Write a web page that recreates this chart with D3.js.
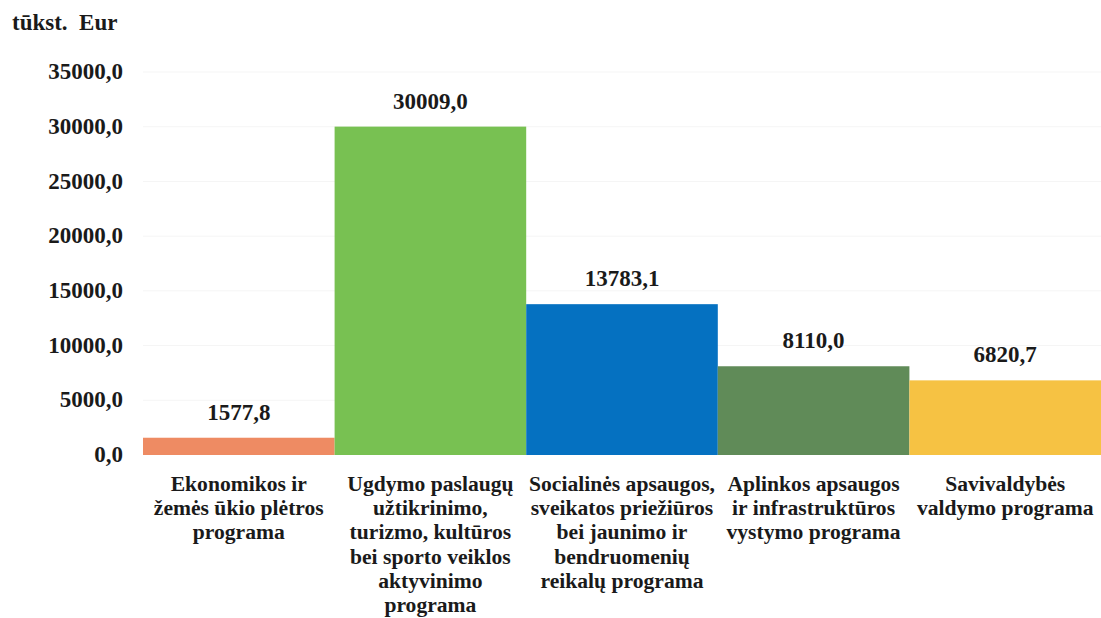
<!DOCTYPE html>
<html>
<head>
<meta charset="utf-8">
<script src="https://cdn.jsdelivr.net/npm/d3@7"></script>
<style>
  html, body { margin: 0; padding: 0; background: #fff; }
  svg { display: block; }
</style>
</head>
<body>
<svg id="chart" width="1101" height="618"></svg>
<script>
const categories = [
  ["Ekonomikos ir", "žemės ūkio plėtros", "programa"],
  ["Ugdymo paslaugų", "užtikrinimo,", "turizmo, kultūros", "bei sporto veiklos", "aktyvinimo", "programa"],
  ["Socialinės apsaugos,", "sveikatos priežiūros", "bei jaunimo ir", "bendruomenių", "reikalų programa"],
  ["Aplinkos apsaugos", "ir infrastruktūros", "vystymo programa"],
  ["Savivaldybės", "valdymo programa"]
];
const values = [1577.8, 30009.0, 13783.1, 8110.0, 6820.7];
const valueLabels = ["1577,8", "30009,0", "13783,1", "8110,0", "6820,7"];
const colors = ["#EE8B63", "#78C152", "#0571C1", "#608B58", "#F6C243"];
const yTicks = [0, 5000, 10000, 15000, 20000, 25000, 30000, 35000];
const unitLabel = "tūkst.  Eur";

const FONT = "'Liberation Serif', 'DejaVu Serif', serif";
const svg = d3.select("#chart")
  .attr("font-family", FONT).attr("font-weight", "bold").attr("fill", "#1a1a1a");
const margin = {left: 143, right: 0, top: 72, bottom: 163};
const W = 1101, H = 618;

const x = d3.scaleBand().domain(d3.range(values.length)).range([margin.left, W - margin.right]).padding(0);
const y = d3.scaleLinear().domain([0, 35000]).range([H - margin.bottom, margin.top]);

// faint gridlines
svg.append("g").selectAll("line").data(yTicks.slice(1)).join("line")
  .attr("x1", margin.left).attr("x2", W)
  .attr("y1", d => y(d)).attr("y2", d => y(d))
  .attr("stroke", "#f5f5f5").attr("stroke-width", 1);

// y axis
const fmt = d => d3.format(".1f")(d).replace(".", ",");
const yAxis = d3.axisLeft(y).tickValues(yTicks).tickFormat(fmt).tickSize(0).tickPadding(0);
const gy = svg.append("g").attr("transform", `translate(123,0)`).call(yAxis);
gy.attr("font-family", FONT).attr("font-size", 23).attr("font-weight", "bold");
gy.select(".domain").remove();
gy.selectAll("text").attr("fill", "#1a1a1a").attr("dy", "0.29em");

// bars
svg.append("g").selectAll("rect").data(values).join("rect")
  .attr("x", (d, i) => x(i))
  .attr("width", x.bandwidth())
  .attr("y", d => y(d))
  .attr("height", d => y(0) - y(d))
  .attr("fill", (d, i) => colors[i]);

// value labels
svg.append("g").selectAll("text").data(values).join("text")
  .attr("x", (d, i) => x(i) + x.bandwidth() / 2)
  .attr("y", d => y(d) - 18)
  .attr("text-anchor", "middle")
  .attr("font-size", 23)
  .text((d, i) => valueLabels[i]);

// category labels
const cat = svg.append("g").selectAll("text").data(categories).join("text")
  .attr("x", (d, i) => x(i) + x.bandwidth() / 2)
  .attr("y", 491)
  .attr("text-anchor", "middle")
  .attr("font-size", 21.6);
cat.selectAll("tspan").data(d => d).join("tspan")
  .attr("x", function() { return d3.select(this.parentNode).attr("x"); })
  .attr("dy", (d, i) => i === 0 ? 0 : 24.2)
  .text(d => d);

// unit label
svg.append("text").attr("x", 12).attr("y", 30).attr("font-size", 23)
  .attr("xml:space", "preserve").style("white-space", "pre").text(unitLabel);
</script>
</body>
</html>
